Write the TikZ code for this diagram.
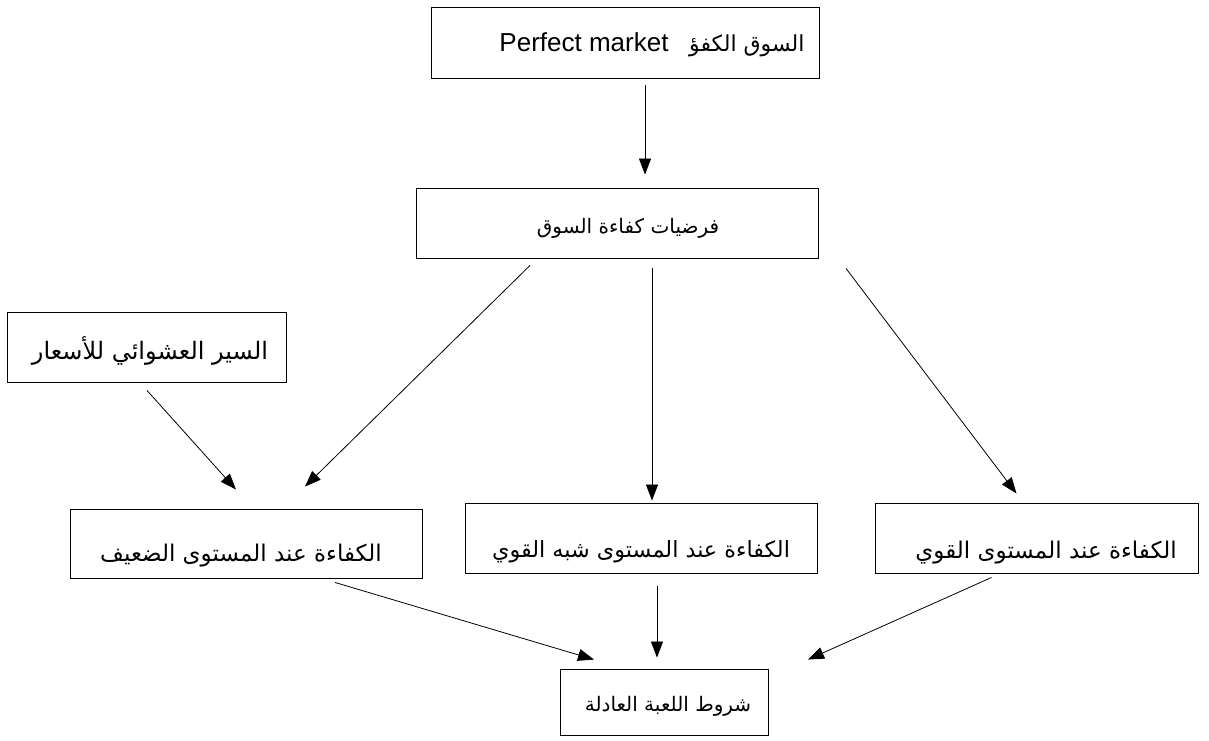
\documentclass[tikz,border=0pt]{standalone}
\usepackage{fontspec}
\setmainfont{Liberation Sans}
\newfontfamily\arabicfont[Script=Arabic]{DejaVu Sans}
\TeXXeTstate=1
\usetikzlibrary{arrows.meta}
\newcommand{\artxt}[1]{{\arabicfont\beginR #1\endR}}
\newcommand{\fs}[1]{\fontsize{#1}{#1}\selectfont}
\begin{document}
\begin{tikzpicture}[x=1pt,y=-1pt,
  box/.style={draw=black,line width=0.9pt,inner sep=0pt},
  lbl/.style={inner sep=0pt,anchor=base},
  arr/.style={-{Triangle[length=16pt,width=12pt]},line width=0.8pt}]
  \fill[white] (0,0) rectangle (1209,740);
  \useasboundingbox (0,0) rectangle (1209,740);

  % boxes
  \node[box,minimum width=388pt,minimum height=71pt] (top) at (625,42.5) {};
  \node[box,minimum width=402pt,minimum height=70pt] (hyp) at (617,223) {};
  \node[box,minimum width=279pt,minimum height=70pt] (rw) at (146.5,347) {};
  \node[box,minimum width=352pt,minimum height=69pt] (weak) at (246,543.5) {};
  \node[box,minimum width=352pt,minimum height=70pt] (semi) at (641,538) {};
  \node[box,minimum width=323pt,minimum height=70pt] (strong) at (1036.5,538) {};
  \node[box,minimum width=208pt,minimum height=66pt] (fair) at (664,702) {};

  % texts
  \node[lbl,font=\fs{26}] (topEn) at (584,51) {Perfect market};
  \node[lbl,anchor=base west,font=\fs{22}] (topAr) at (689,51) {\artxt{السوق الكفؤ}};
  \node[lbl,font=\fs{20}] (hypT) at (628,233) {\artxt{فرضيات كفاءة السوق}};
  \node[lbl,font=\fs{24}] (rwT) at (150,359) {\artxt{السير العشوائي للأسعار}};
  \node[lbl,font=\fs{23}] (weakT) at (241,561) {\artxt{الكفاءة عند المستوى الضعيف}};
  \node[lbl,font=\fs{22.3}] (semiT) at (641,557) {\artxt{الكفاءة عند المستوى شبه القوي}};
  \node[lbl,font=\fs{23}] (strongT) at (1046,558) {\artxt{الكفاءة عند المستوى القوي}};
  \node[lbl,font=\fs{20}] (fairT) at (668,711) {\artxt{شروط اللعبة العادلة}};

  % connectors
  \draw[arr] ([shift={(20,7)}]top.south) -- ([shift={(28,-13)}]hyp.north);
  \draw[arr] ([shift={(-87,7)}]hyp.south) -- ([shift={(59,-22)}]weak.north);
  \draw[arr] ([shift={(35,10)}]hyp.south) -- ([shift={(11,-2)}]semi.north);
  \draw[arr] ([shift={(229,10)}]hyp.south) -- ([shift={(-20,-9)}]strong.north);
  \draw[arr] ([shift={(0.5,8)}]rw.south) -- ([shift={(-10,-19)}]weak.north);
  \draw[arr] ([shift={(89,4)}]weak.south) -- ([shift={(-70,-9)}]fair.north);
  \draw[arr] ([shift={(16,13)}]semi.south) -- ([shift={(-7,-11)}]fair.north);
  \draw[arr] ([shift={(-45,4)}]strong.south) -- ([shift={(144,-9)}]fair.north);
\end{tikzpicture}
\end{document}
